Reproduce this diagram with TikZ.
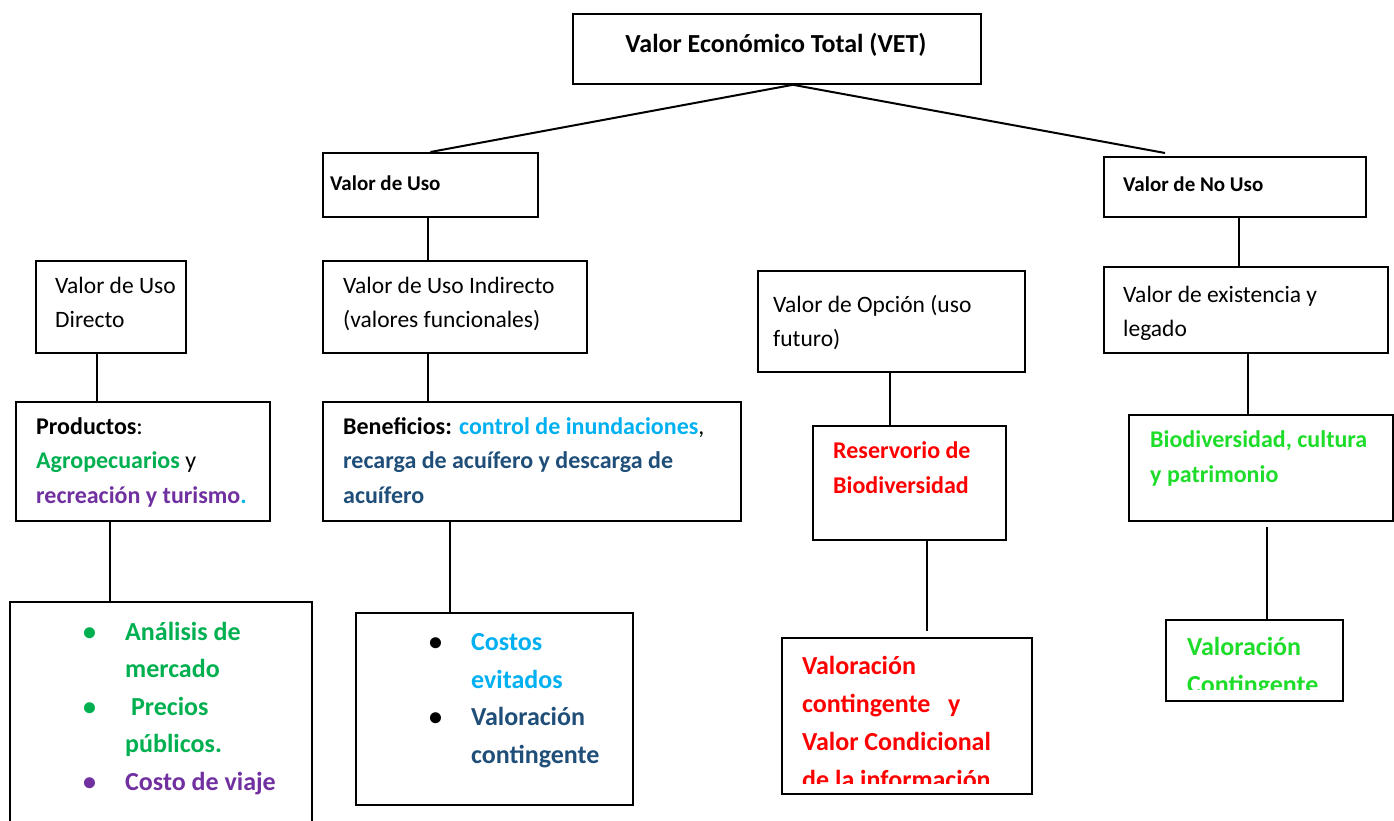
\documentclass[tikz,border=0pt]{standalone}
\usepackage{fontspec}
\setmainfont{Carlito}
\usepackage{xcolor}
\usepackage{tikz}
\usetikzlibrary{positioning}
\definecolor{vgreen}{HTML}{00B050}
\definecolor{vpurple}{HTML}{7030A0}
\definecolor{vcyan}{HTML}{00B0F0}
\definecolor{vnavy}{HTML}{1F4E79}
\definecolor{vred}{HTML}{FF0000}
\definecolor{vlime}{HTML}{1EDC2A}
\newcommand\vbul[1]{\makebox[42pt][l]{\textcolor{#1}{\textbullet}}}

\begin{document}
\begin{tikzpicture}[x=1pt, y=-1pt,
  box/.style={draw, line width=1.8pt, anchor=north west, inner sep=0pt},
  txt/.style={anchor=base west, inner sep=0pt, align=left},
  link/.style={line width=2pt},
  hdtext/.style={font=\fontsize{21}{26}\selectfont\bfseries},
  rowtext/.style={font=\fontsize{23.5}{34}\selectfont},
  boldtext/.style={font=\fontsize{24}{34.5}\selectfont\bfseries},
  listtext/.style={font=\fontsize{26}{37.5}\selectfont\bfseries}]
\useasboundingbox (0,0) rectangle (1394,821);

% top levels (text nodes sit on the baseline of their last line)
\node[box, minimum width=408pt, minimum height=70pt] (vet) at (572,13) {};
\node[txt, anchor=base, font=\fontsize{26}{30}\selectfont\bfseries] (vet-t) at (776,53) {Valor Económico Total (VET)};
\node[box, minimum width=215pt, minimum height=64pt] (uso) at (322,152) {};
\node[txt, hdtext] (uso-t) at (330,191) {Valor de Uso};
\node[box, minimum width=262pt, minimum height=60pt] (nouso) at (1103,156) {};
\node[txt, hdtext] (nouso-t) at (1123,192) {Valor de No Uso};

% second row
\node[box, minimum width=150pt, minimum height=92pt] (directo) at (35,260) {};
\node[txt, rowtext] (directo-t) at (55,327) {Valor de Uso\\Directo};
\node[box, minimum width=264pt, minimum height=92pt] (indirecto) at (322,260) {};
\node[txt, rowtext] (indirecto-t) at (343,327) {Valor de Uso Indirecto\\(valores funcionales)};
\node[box, minimum width=267pt, minimum height=101pt] (opcion) at (757,270) {};
\node[txt, rowtext] (opcion-t) at (773,346) {Valor de Opción (uso\\futuro)};
\node[box, minimum width=284pt, minimum height=86pt] (existencia) at (1103,266) {};
\node[txt, rowtext] (existencia-t) at (1123,336) {Valor de existencia y\\legado};

% third row
\node[box, minimum width=254pt, minimum height=119pt] (productos) at (15,401) {};
\node[txt, boldtext] (productos-t) at (36,503) {Productos{\mdseries:}\\
  \textcolor{vgreen}{Agropecuarios} {\mdseries y}\\
  \textcolor{vpurple}{recreación y turismo}\textcolor{vcyan}{.}};
\node[box, minimum width=418pt, minimum height=119pt] (beneficios) at (322,401) {};
\node[txt, boldtext] (beneficios-t) at (343,503) {Beneficios: \textcolor{vcyan}{control de inundaciones}{\mdseries ,}\\
  \textcolor{vnavy}{recarga de acuífero y descarga de}\\
  \textcolor{vnavy}{acuífero}};
\node[box, minimum width=193pt, minimum height=114pt] (reservorio) at (812,425) {};
\node[txt, boldtext, text=vred] (reservorio-t) at (833,493) {Reservorio de\\Biodiversidad};
\node[box, minimum width=264pt, minimum height=106pt] (biodiv) at (1128,414) {};
\node[txt, boldtext, text=vlime] (biodiv-t) at (1150,482) {Biodiversidad, cultura\\y patrimonio};

% methods
\node[box, minimum width=302pt, minimum height=240pt] (analisis) at (9,601) {};
\node[txt, listtext, text=vgreen] (analisis-t) at (83,790) {\vbul{vgreen}Análisis de\\
  \hspace*{42pt}mercado\\
  \vbul{vgreen} Precios\\
  \hspace*{42pt}públicos.\\
  \vbul{vpurple}\textcolor{vpurple}{Costo de viaje}};
\node[box, minimum width=277pt, minimum height=192pt] (costos) at (355,612) {};
\node[txt, listtext] (costos-t) at (429,763) {\vbul{black}\textcolor{vcyan}{Costos}\\
  \hspace*{42pt}\textcolor{vcyan}{evitados}\\
  \vbul{black}\textcolor{vnavy}{Valoración}\\
  \hspace*{42pt}\textcolor{vnavy}{contingente}};
\node[box, minimum width=250pt, minimum height=156pt] (valrojo) at (781,637) {};
\begin{scope}
  \clip (valrojo.north west) rectangle ([yshift=11pt]valrojo.south east);
  \node[txt, font=\fontsize{26}{38}\selectfont\bfseries, text=vred] (valrojo-t) at (802,788) {Valoración\\contingente\ \ \ y\\Valor Condicional\\de la información};
\end{scope}
\node[box, minimum width=177pt, minimum height=81pt] (valverde) at (1165,619) {};
\begin{scope}
  \clip (valverde.north west) rectangle ([yshift=12pt]valverde.south east);
  \node[txt, listtext, text=vlime] (valverde-t) at (1187,693) {Valoración\\Contingente};
\end{scope}

% connectors
\coordinate (vet-out) at ([xshift=16pt]vet.south);
\coordinate (nouso-in) at (1165,153);
\coordinate (reservorio-end) at (927,631);
\coordinate (biodiv-start) at (1267,527);
\draw[link] (uso.north) -- (vet-out) -- (nouso-in);
\draw[link] (uso.south -| 428,0) -- (indirecto.north -| 428,0);
\draw[link] (nouso.south -| 1239,0) -- (existencia.north -| 1239,0);
\draw[link] (directo.south -| 97,0) -- (productos.north -| 97,0);
\draw[link] (indirecto.south -| 428,0) -- (beneficios.north -| 428,0);
\draw[link] (opcion.south -| 890,0) -- (reservorio.north -| 890,0);
\draw[link] (existencia.south -| 1248,0) -- (biodiv.north -| 1248,0);
\draw[link] (productos.south -| 110,0) -- (analisis.north -| 110,0);
\draw[link] (beneficios.south -| 450,0) -- (costos.north -| 450,0);
\draw[link] (reservorio.south -| 927,0) -- (reservorio-end);
\draw[link] (biodiv-start) -- (valverde.north -| 1267,0);
\end{tikzpicture}
\end{document}
